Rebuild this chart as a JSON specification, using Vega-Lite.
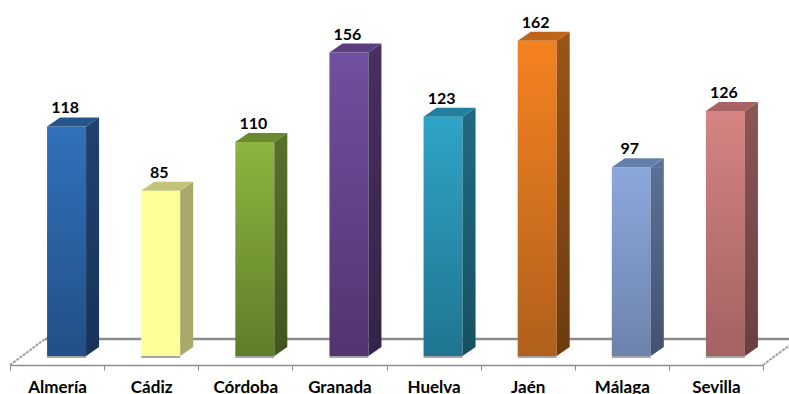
{"$schema":"https://vega.github.io/schema/vega-lite/v6.json","width":753,"height":356,"autosize":{"type":"none"},"padding":{"left":10,"right":26,"top":0,"bottom":38},"background":"white","view":{"stroke":null},"config":{"font":"Lato"},
"data":{"values":[{"name":"Almería","value":118},{"name":"Cádiz","value":85},{"name":"Córdoba","value":110},{"name":"Granada","value":156},{"name":"Huelva","value":123},{"name":"Jaén","value":162},{"name":"Málaga","value":97},{"name":"Sevilla","value":126}]},
"encoding":{"x":{"field":"name","type":"nominal","sort":null,"scale":{"paddingInner":0,"paddingOuter":0},"axis":{"title":null,"labelAngle":0,"offset":9,"tickBand":"extent","tickSize":5,"tickColor":"#8c8c8c","domainColor":"#8c8c8c","domainWidth":1.5,"labelFont":"Lato","labelFontWeight":"bold","labelFontSize":17,"labelColor":"#000000","labelPadding":9,"labelOverlap":false}}},
"layer":[
{"data":{"values":[{"a":"Almería"}]},"mark":{"type":"point","shape":"M0,9 L35,-17 M753,9 L788,-17","size":4,"filled":false,"stroke":"#a0a0a0","strokeWidth":2,"strokeDash":[3,1],"opacity":1},"encoding":{"x":{"datum":"Almería","bandPosition":0,"type":"nominal","sort":null},"y":{"datum":0,"type":"quantitative","scale":{"domain":[0,183],"nice":false},"axis":null}}},
{"data":{"values":[{"a":"Almería"}]},"mark":{"type":"point","shape":"M35,-17 L790,-17","size":4,"filled":false,"stroke":"#8c8c8c","strokeWidth":2.5,"opacity":1},"encoding":{"x":{"datum":"Almería","bandPosition":0,"type":"nominal","sort":null},"y":{"datum":0,"type":"quantitative"}}},
{"mark":{"type":"bar","size":39,"xOffset":9.5},"encoding":{"y":{"field":"value","type":"quantitative"},"fill":{"field":"name","type":"nominal","sort":null,"legend":null,"scale":{"range":[
{"signal":"{gradient:'linear',x1:0,y1:0,x2:0,y2:1,stops:[{offset:0,color:'#3071ba'},{offset:1,color:'#234f88'}]}"},
{"signal":"{gradient:'linear',x1:0,y1:0,x2:0,y2:1,stops:[{offset:0,color:'#ffff99'},{offset:1,color:'#ffff99'}]}"},
{"signal":"{gradient:'linear',x1:0,y1:0,x2:0,y2:1,stops:[{offset:0,color:'#8db53f'},{offset:1,color:'#5f7d2a'}]}"},
{"signal":"{gradient:'linear',x1:0,y1:0,x2:0,y2:1,stops:[{offset:0,color:'#7050a0'},{offset:1,color:'#53346f'}]}"},
{"signal":"{gradient:'linear',x1:0,y1:0,x2:0,y2:1,stops:[{offset:0,color:'#2fa4c6'},{offset:1,color:'#1f7590'}]}"},
{"signal":"{gradient:'linear',x1:0,y1:0,x2:0,y2:1,stops:[{offset:0,color:'#f58220'},{offset:1,color:'#b0601c'}]}"},
{"signal":"{gradient:'linear',x1:0,y1:0,x2:0,y2:1,stops:[{offset:0,color:'#8ca8dc'},{offset:1,color:'#6c83ab'}]}"},
{"signal":"{gradient:'linear',x1:0,y1:0,x2:0,y2:1,stops:[{offset:0,color:'#d68383'},{offset:1,color:'#a36262'}]}"}
]}}}},
{"mark":{"type":"bar","size":13,"xOffset":35.5,"y2Offset":-9},"encoding":{"y":{"field":"value","type":"quantitative"},"y2":{"datum":0},"fill":{"field":"name","type":"nominal","sort":null,"legend":null,"scale":{"range":[
{"signal":"{gradient:'linear',x1:0,y1:0,x2:0,y2:1,stops:[{offset:0,color:'#20416f'},{offset:1,color:'#18335c'}]}"},
{"signal":"{gradient:'linear',x1:0,y1:0,x2:0,y2:1,stops:[{offset:0,color:'#a8a868'},{offset:1,color:'#a8a868'}]}"},
{"signal":"{gradient:'linear',x1:0,y1:0,x2:0,y2:1,stops:[{offset:0,color:'#56702a'},{offset:1,color:'#41561e'}]}"},
{"signal":"{gradient:'linear',x1:0,y1:0,x2:0,y2:1,stops:[{offset:0,color:'#46305f'},{offset:1,color:'#352449'}]}"},
{"signal":"{gradient:'linear',x1:0,y1:0,x2:0,y2:1,stops:[{offset:0,color:'#1f6a80'},{offset:1,color:'#175262'}]}"},
{"signal":"{gradient:'linear',x1:0,y1:0,x2:0,y2:1,stops:[{offset:0,color:'#9a5418'},{offset:1,color:'#6f3c10'}]}"},
{"signal":"{gradient:'linear',x1:0,y1:0,x2:0,y2:1,stops:[{offset:0,color:'#5b7096'},{offset:1,color:'#44546f'}]}"},
{"signal":"{gradient:'linear',x1:0,y1:0,x2:0,y2:1,stops:[{offset:0,color:'#8a5555'},{offset:1,color:'#6a4040'}]}"}
]}}}},
{"mark":{"type":"point","shape":"M29,0 L42,-9 L42,0.5 L29,0.5 Z","size":4,"filled":true,"opacity":1},"encoding":{"y":{"field":"value","type":"quantitative"},"fill":{"field":"name","type":"nominal","sort":null,"legend":null,"scale":{"range":["#20416f","#a8a868","#56702a","#46305f","#1f6a80","#9a5418","#5b7096","#8a5555"]}}}},
{"mark":{"type":"point","shape":"M29,0 L42,-9 L29,-9 Z","size":4,"filled":true,"opacity":1},"encoding":{"y":{"datum":0,"type":"quantitative"},"fill":{"field":"name","type":"nominal","sort":null,"legend":null,"scale":{"range":["#18335c","#a8a868","#41561e","#352449","#175262","#6f3c10","#44546f","#6a4040"]}}}},
{"mark":{"type":"point","shape":"M-10,0 L29,0 L42,-9 L3,-9 Z","size":4,"filled":true,"opacity":1},"encoding":{"y":{"field":"value","type":"quantitative"},"fill":{"field":"name","type":"nominal","sort":null,"legend":null,"scale":{"range":["#25558a","#c4c478","#6a8a30","#5a4080","#1f7f9c","#c0641a","#6480aa","#a86464"]}}}},
{"mark":{"type":"point","shape":"M-10,0 L29,0 L29,2 L-10,2 Z","size":4,"filled":true,"opacity":1,"fill":"#a6a6a6"},"encoding":{"y":{"datum":0,"type":"quantitative"}}},
{"mark":{"type":"text","font":"Lato","fontWeight":"bold","fontSize":16,"color":"#000000","xOffset":8,"yOffset":-13,"baseline":"alphabetic","align":"center"},"encoding":{"y":{"field":"value","type":"quantitative"},"text":{"field":"value","type":"quantitative"}}}
],
"resolve":{"scale":{"fill":"independent"}}}
